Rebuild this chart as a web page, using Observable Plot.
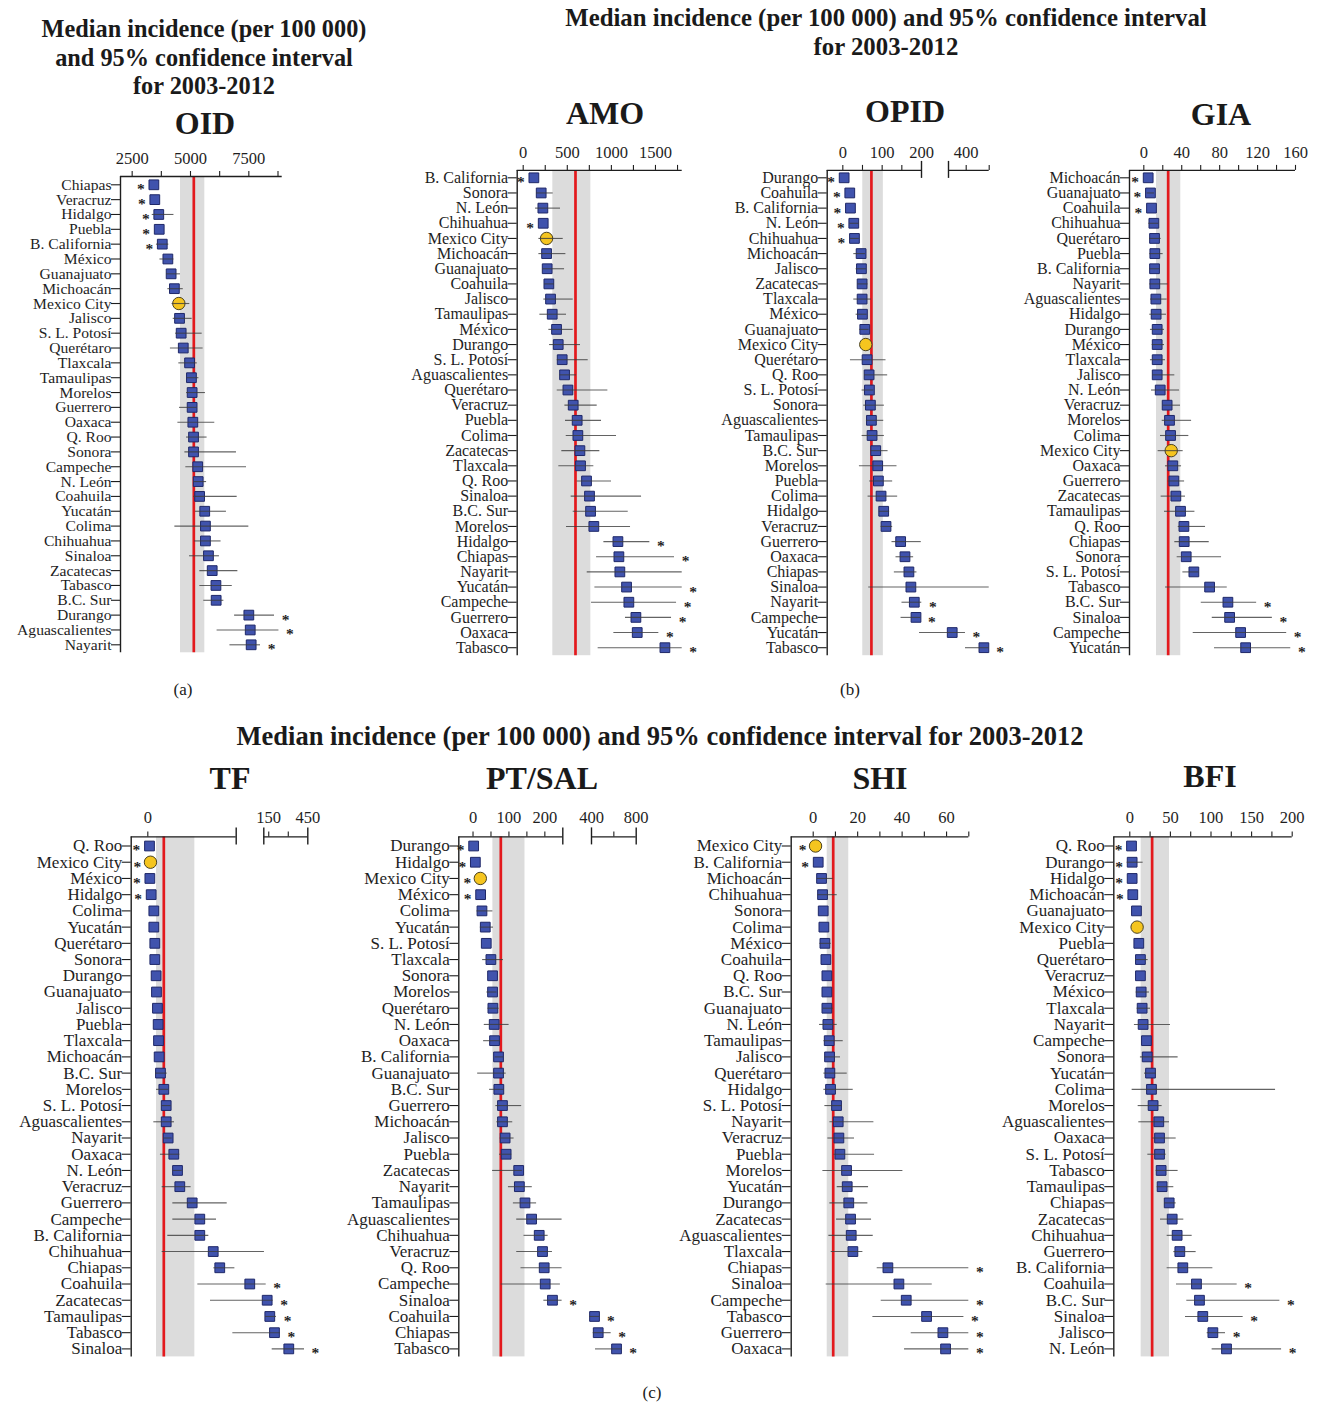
<!DOCTYPE html>
<html><head><meta charset="utf-8">
<script src="https://cdn.jsdelivr.net/npm/d3@7"></script>
<script src="https://cdn.jsdelivr.net/npm/@observablehq/plot@0.6"></script>
<style>
body{margin:0;background:#fff}
#page{position:relative;width:1320px;height:1404px;font-family:"Liberation Serif","Times New Roman",serif;color:#1a1a1a;overflow:hidden;background:#fff}
.t{position:absolute;white-space:nowrap;text-align:center;line-height:1}
.p{position:absolute}
</style></head><body><div id="page"></div>
<script>
// ---------------- DATA ----------------
// OID
const OID_states = ["Chiapas","Veracruz","Hidalgo","Puebla","B. California","México","Guanajuato","Michoacán","Mexico City","Jalisco","S. L. Potosí","Querétaro","Tlaxcala","Tamaulipas","Morelos","Guerrero","Oaxaca","Q. Roo","Sonora","Campeche","N. León","Coahuila","Yucatán","Colima","Chihuahua","Sinaloa","Zacatecas","Tabasco","B.C. Sur","Durango","Aguascalientes","Nayarit"];
const OID_median = [3430,3470,3640,3660,3790,4030,4170,4310,4500,4530,4600,4690,4960,5040,5070,5070,5100,5130,5130,5310,5330,5390,5610,5640,5640,5770,5930,6090,6100,7500,7560,7600];
const OID_low    = [3430,3470,3360,3660,3540,3690,3970,4030,4210,4260,4360,4140,4500,4860,4830,4530,4460,4830,4760,4800,5140,5140,5210,4330,5170,4960,5400,5400,5570,6890,6140,6690];
const OID_high   = [3430,3470,4290,3660,4070,4290,4570,4690,4970,5070,5500,5540,5290,5360,5640,5290,6040,5710,6970,7400,5690,7000,6540,7500,6310,6240,7030,6790,6430,8600,8790,8000];
const OID_stars  = ["L","L","L","L","L","","","","","","","","","","","","","","","","","","","","","","","","","R","R","R"];
const OID_ref = 5142, OID_band = [4571, 5614];
const OID_ticks = [2500,3750,5000,6250,7500,8750], OID_breaks = [], OID_labels = [2500,5000,7500];
const OID_axis = [[2000, 8930]];

// AMO
const AMO_states = ["B. California","Sonora","N. León","Chihuahua","Mexico City","Michoacán","Guanajuato","Coahuila","Jalisco","Tamaulipas","México","Durango","S. L. Potosí","Aguascalientes","Querétaro","Veracruz","Puebla","Colima","Zacatecas","Tlaxcala","Q. Roo","Sinaloa","B.C. Sur","Morelos","Hidalgo","Chiapas","Nayarit","Yucatán","Campeche","Guerrero","Oaxaca","Tabasco"];
const AMO_median = [121,204,223,227,265,265,272,291,310,329,378,397,442,469,507,567,612,620,643,650,718,752,764,801,1074,1085,1096,1172,1198,1278,1293,1607];
const AMO_low    = [121,151,140,227,178,178,223,242,234,189,291,299,386,416,386,473,480,488,438,404,612,544,567,491,915,832,726,813,775,1160,1028,850];
const AMO_high   = [121,340,423,227,454,484,469,355,567,491,567,650,737,605,960,839,888,1058,869,801,1002,1342,1191,1217,1436,1716,1803,1803,1739,1682,1538,1803];
const AMO_stars  = ["L","","","L","","","","","","","","","","","","","","","","","","","","","R","R","","R","R","R","R","R"];
const AMO_ref = 593, AMO_band = [336, 767];
const AMO_ticks = [0,250,500,750,1000,1250,1500,1750], AMO_breaks = [], AMO_labels = [0,500,1000,1500];
const AMO_axis = [[-68, 1803]];

// OPID
const OPID_states = ["Durango","Coahuila","B. California","N. León","Chihuahua","Michoacán","Jalisco","Zacatecas","Tlaxcala","México","Guanajuato","Mexico City","Querétaro","Q. Roo","S. L. Potosí","Sonora","Aguascalientes","Tamaulipas","B.C. Sur","Morelos","Puebla","Colima","Hidalgo","Veracruz","Guerrero","Oaxaca","Chiapas","Sinaloa","Nayarit","Campeche","Yucatán","Tabasco"];
const OPID_median = [3.4,17.7,19.4,27.9,29.6,46.5,47.3,49,49,49.9,55.8,58.3,61.7,66.8,67.6,70.1,72.7,74.4,83.7,88.7,90.4,97.2,103.9,109.8,147,158,168,173,181.7,186,321,500];
const OPID_low    = [3.4,17.7,19.4,17.7,19.4,27.9,33.8,38,27.9,33.8,43,58.3,19.4,55,49,53.2,60,49,71.8,42.2,68.4,64.2,92.9,97.2,125,135.2,131,65.9,150.4,148,195,396];
const OPID_high   = [3.4,17.7,19.4,42,42,57.5,60,64,72.7,61.7,66.8,58.3,109.8,114,78.6,105.6,104,105.6,115,137.7,126.7,139.4,119,126.7,199.4,180,188.4,530,201,198.6,396,530];
const OPID_stars  = ["L","L","L","L","L","","","","","","","","","","","","","","","","","","","","","","","","R","R","R","R"];
const OPID_ref = 72.7, OPID_band = [50.7, 103];
const OPID_ticks = [0,50,100,150,400,530], OPID_breaks = [200,300], OPID_labels = [0,100,200,400];
const OPID_axis = [[-39.7, 200],[300, 530]];

// GIA
const GIA_states = ["Michoacán","Guanajuato","Coahuila","Chihuahua","Querétaro","Puebla","B. California","Nayarit","Aguascalientes","Hidalgo","Durango","México","Tlaxcala","Jalisco","N. León","Veracruz","Morelos","Colima","Mexico City","Oaxaca","Guerrero","Zacatecas","Tamaulipas","Q. Roo","Chiapas","Sonora","S. L. Potosí","Tabasco","B.C. Sur","Sinaloa","Campeche","Yucatán"];
const GIA_median = [4.6,7,8.1,10.6,11.3,11.6,11.3,11.6,12.7,13,14.1,14.1,14.1,14.1,17.3,24.6,27.1,28.2,28.9,30.6,31.7,33.8,38.7,42.3,42.6,44.7,52.8,69.4,88.7,90.5,102.1,107.4];
const GIA_low    = [4.6,3.5,8.1,5.3,6,6.3,6.3,6.3,7,6.3,7,8.8,7,9.5,8.1,20.4,19.4,17.6,15.1,22.9,25.7,18.3,21.8,36.3,32.7,35.2,41.2,22.9,60.6,72.2,52.1,74.6];
const GIA_high   = [4.6,11.3,8.1,15.8,18.3,20.4,16.9,25.7,24.6,23.9,21.8,21.8,22.9,32.7,37.7,38.7,50.4,47.5,41.5,39.8,43,44,53.9,65.1,69,82,58.1,88,119,135.6,150.7,155];
const GIA_stars  = ["L","L","L","","","","","","","","","","","","","","","","","","","","","","","","","","R","R","R","R"];
const GIA_ref = 25.7, GIA_band = [13.4, 39];
const GIA_ticks = [0,20,40,60,80,100,120,140,160], GIA_breaks = [], GIA_labels = [0,40,80,120,160];
const GIA_axis = [[-15.1, 160]];

// TF
const TF_states = ["Q. Roo","Mexico City","México","Hidalgo","Colima","Yucatán","Querétaro","Sonora","Durango","Guanajuato","Jalisco","Puebla","Tlaxcala","Michoacán","B.C. Sur","Morelos","S. L. Potosí","Aguascalientes","Nayarit","Oaxaca","N. León","Veracruz","Guerrero","Campeche","B. California","Chihuahua","Chiapas","Coahuila","Zacatecas","Tamaulipas","Tabasco","Sinaloa"];
const TF_median = [1.9,3.0,2.3,3.8,6.8,6.8,7.9,7.9,9.4,9.8,10.9,11.7,12.1,12.8,14.3,18.1,20.8,20.8,23,29.4,33.6,36.2,50.2,58.8,58.8,74,81.4,105.9,138,158,194,304];
const TF_low    = [1.9,3.0,2.3,3.8,6.8,6.8,7.9,7.9,9.4,9.8,10.9,11.7,12.1,12.8,8.7,9.8,16.2,6.8,18.1,14.3,28.7,16.2,28.3,28.3,22.6,16.2,74.7,56.6,70.9,125,96.2,176.5];
const TF_high   = [1.9,3.0,2.3,3.8,6.8,6.8,7.9,7.9,9.4,9.8,10.9,11.7,12.1,12.8,21.9,23.8,26.4,30.2,27.5,36.2,38.9,49,89.8,77.7,69,117,98.5,130.4,184,209.6,240,424.6];
const TF_stars  = ["L","L","L","L","","","","","","","","","","","","","","","","","","","","","","","","R","R","R","R","R"];
const TF_ref = 18.1, TF_band = [9.8, 53.2];
const TF_ticks = [0,150,300], TF_breaks = [100,112,450], TF_labels = [0,150,450];
const TF_axis = [[-18.8, 100],[112, 450]];

// PT/SAL
const PT_states = ["Durango","Hidalgo","Mexico City","México","Colima","Yucatán","S. L. Potosí","Tlaxcala","Sonora","Morelos","Querétaro","N. León","Oaxaca","B. California","Guanajuato","B.C. Sur","Guerrero","Michoacán","Jalisco","Puebla","Zacatecas","Nayarit","Tamaulipas","Aguascalientes","Chihuahua","Veracruz","Q. Roo","Campeche","Sinaloa","Coahuila","Chiapas","Tabasco"];
const PT_median = [1.8,6.5,20.3,21.2,24.9,34.1,36.9,49.8,54.4,54.4,55.3,59,59.9,71,71,71.9,82,82,89.4,92.2,127.2,129,144.7,163.1,184.3,193.5,198.2,201,221.2,427,460,624];
const PT_low    = [1.8,6.5,20.3,21.2,11,20.3,36.9,26.7,54.4,38.7,41.5,31.3,29.5,61.8,12.9,46.1,63.6,66.4,75.6,73.7,54.4,98.6,112.4,121.7,142,121.7,133.6,78.3,197.2,391,415,436];
const PT_high   = [1.8,6.5,20.3,21.2,55.3,57.1,36.9,84.8,54.4,66.4,72.8,100.5,75.6,84.8,92.2,86.6,135.5,110.6,114.3,107.8,137.3,165,177,248,209.2,221.2,248,243.3,248,475,576,675];
const PT_stars  = ["L","L","L","L","","","","","","","","","","","","","","","","","","","","","","","","","R","R","R","R"];
const PT_ref = 77.4, PT_band = [55.3, 144.7];
const PT_ticks = [0,50,100,150,200,600], PT_breaks = [250,400,800], PT_labels = [0,100,200,400,800];
const PT_axis = [[-39.6, 250],[400, 800]];

// SHI
const SHI_states = ["Mexico City","B. California","Michoacán","Chihuahua","Sonora","Colima","México","Coahuila","Q. Roo","B.C. Sur","Guanajuato","N. León","Tamaulipas","Jalisco","Querétaro","Hidalgo","S. L. Potosí","Nayarit","Veracruz","Puebla","Morelos","Yucatán","Durango","Zacatecas","Aguascalientes","Tlaxcala","Chiapas","Sinaloa","Campeche","Tabasco","Guerrero","Oaxaca"];
const SHI_median = [1.05,2.25,3.75,4.2,4.5,4.8,5.25,5.7,6.15,6.15,6.15,6.6,7.2,7.35,7.5,7.8,10.5,11.25,11.55,12,15,15.3,16,16.8,17.1,17.85,33.6,38.55,41.85,51,58.35,59.55];
const SHI_low    = [1.05,2.25,1.8,2.1,4.5,4.8,3,5.7,6.15,6.15,4.5,2.85,4.8,5.25,4.8,4.8,5.25,7.5,6.6,9.3,4.35,10.8,7.5,10.5,7.05,8.1,28.8,5.85,30.6,26.85,44.1,41.1];
const SHI_high   = [1.05,2.25,9,10.8,4.5,4.8,8.1,5.7,6.15,6.15,9,10.8,13.5,12.3,15.3,18,13,27.3,18.6,27.6,40.35,24.9,24.6,26.25,27,22.35,70,53.55,70,67.8,70,70];
const SHI_stars  = ["L","L","","","","","","","","","","","","","","","","","","","","","","","","","R","","R","R","R","R"];
const SHI_ref = 9.0, SHI_band = [6.3, 16];
const SHI_ticks = [0,10,20,30,40,50,60,70], SHI_breaks = [], SHI_labels = [0,20,40,60];
const SHI_axis = [[-9.9, 70]];

// BFI
const BFI_states = ["Q. Roo","Durango","Hidalgo","Michoacán","Guanajuato","Mexico City","Puebla","Querétaro","Veracruz","México","Tlaxcala","Nayarit","Campeche","Sonora","Yucatán","Colima","Morelos","Aguascalientes","Oaxaca","S. L. Potosí","Tabasco","Tamaulipas","Chiapas","Zacatecas","Chihuahua","Guerrero","B. California","Coahuila","B.C. Sur","Sinaloa","Jalisco","N. León"];
const BFI_median = [2.1,2.9,2.9,3.7,8.2,9,11.1,13.1,13.1,14,15.2,16.4,20.5,21.4,25.5,26.7,28.7,35.7,36.6,36.6,38.6,39.8,48.5,52.2,58.3,61.6,65.3,82.1,85.8,89.9,102.3,119.1];
const BFI_low    = [2.1,-3.3,2.9,3.7,8.2,9,11.1,7,13.1,7.8,9,5.7,20.5,13.1,18.1,2.9,10.3,11.1,28.3,22.2,32.4,33.7,42.7,37.8,46,54.2,46,57.5,70.2,68.6,95.3,101.4];
const BFI_high   = [2.1,16.4,2.9,3.7,8.2,9,11.1,22.6,13.1,24.2,25.5,50.1,20.5,59.5,32.9,179.5,39.8,48.9,57.1,44.8,59.5,54.2,57.1,66.5,76.8,81.7,102.3,132.2,184.8,139.6,117.9,186.9];
const BFI_stars  = ["L","L","L","L","","","","","","","","","","","","","","","","","","","","","","","","R","R","R","R","R"];
const BFI_ref = 27.5, BFI_band = [14, 48.9];
const BFI_ticks = [0,25,50,75,100,125,150,175,200], BFI_breaks = [], BFI_labels = [0,50,100,150,200];
const BFI_axis = [[-19.7, 200]];

// ---------------- LAYOUT ----------------
const FONT = '"Liberation Serif","Times New Roman",serif';
const page = document.getElementById("page");

function label(text, cx, base, size, bold) {
  const el = document.createElement("div");
  el.className = "t";
  el.textContent = text;
  el.style.cssText = `left:${cx - 500}px;width:1000px;top:${base - 0.8375 * size}px;font-size:${size}px;font-weight:${bold ? 700 : 400}`;
  page.append(el);
}

function panel(cfg, d) {
  const n = d.states.length;
  const rows = d.states.map((s, i) => ({state: s, i, v: d.median[i], lo: d.low[i], hi: d.high[i], star: d.stars[i]}));
  const sp = (cfg.rowN - cfg.row0) / (n - 1);
  const yTop = (cfg.axisY - cfg.row0) / sp;
  const yBot = (n - 1) + 8 / sp;
  const x0 = d.axis[0][0];
  const ink = "#1e1e1e";
  const svg = Plot.plot({
    width: cfg.width, height: cfg.height,
    marginTop: 0, marginRight: 0, marginBottom: 0, marginLeft: 0,
    style: {fontFamily: FONT, fontSize: "16px", color: ink, background: "transparent", overflow: "visible"},
    x: {type: "linear", domain: cfg.domain, range: cfg.range, axis: null},
    y: {type: "linear", domain: [0, n - 1], range: [cfg.row0, cfg.rowN], axis: null},
    marks: [
      Plot.rect([d.band], {x1: b => b[0], x2: b => b[1], y1: yTop, y2: yBot, fill: "#dcdcdc"}),
      Plot.ruleX([d.ref], {x: v => v, y1: yTop, y2: yBot, stroke: "#e3191d", strokeWidth: 2.7}),
      Plot.ruleX([x0], {x: v => v, y1: yTop, y2: yBot, stroke: ink, strokeWidth: 1.4}),
      Plot.ruleY(d.axis, {y: yTop, x1: s => s[0], x2: s => s[1], stroke: ink, strokeWidth: 1.4}),
      Plot.ruleX(d.ticks, {x: v => v, y1: yTop - 5 / sp, y2: yTop, stroke: ink, strokeWidth: 1.1}),
      Plot.ruleX(d.breaks, {x: v => v, y1: yTop - 9 / sp, y2: yTop + 8 / sp, stroke: ink, strokeWidth: 1.4}),
      Plot.text(d.labels, {x: v => v, y: yTop, dy: cfg.labelDy, text: v => String(v), fontSize: 16.5, fill: ink}),
      Plot.ruleY(rows, {y: "i", x1: x0, x2: x0, insetLeft: -9, stroke: ink, strokeWidth: 1.1}),
      Plot.text(rows, {x: x0, y: "i", text: "state", textAnchor: "end", dx: -9, fontSize: cfg.fs, fill: ink}),
      Plot.dot(rows.filter(r => r.state !== "Mexico City"), {x: "v", y: "i", symbol: "square", r: 5.5, fill: "#4053ad", stroke: "#1f2868", strokeWidth: 1}),
      Plot.dot(rows.filter(r => r.state === "Mexico City"), {x: "v", y: "i", r: 6.2, fill: "#f5c51f", stroke: "#4a4220", strokeWidth: 1}),
      Plot.ruleY(rows.filter(r => r.hi > r.lo), {y: "i", x1: "lo", x2: "hi", stroke: "#3c3c3c", strokeOpacity: 0.8, strokeWidth: 1.1}),
      Plot.text(rows.filter(r => r.star === "L"), {x: "v", y: "i", text: () => "*", dx: -13, dy: 4.5, fontSize: 15.5, fontWeight: "bold", fill: ink}),
      Plot.text(rows.filter(r => r.star === "R"), {x: "hi", y: "i", text: () => "*", dx: 11, dy: 4.5, fontSize: 15.5, fontWeight: "bold", fill: ink})
    ]
  });
  const wrap = document.createElement("div");
  wrap.className = "p";
  wrap.style.cssText = `left:${cfg.left}px;top:${cfg.top}px;width:${cfg.width}px;height:${cfg.height}px`;
  wrap.append(svg);
  page.append(wrap);
}

const AB = {row0: 47.3, rowN: 517.2, axisY: 39.9, labelDy: -18, fs: 16};
const C = {row0: 45.5, rowN: 548.4, axisY: 36.4, labelDy: -19, fs: 17};

panel({left: 0, top: 140, width: 310, height: 525, row0: 44.3, rowN: 504.3, axisY: 36, labelDy: -18, fs: 15.6,
       domain: [2000, 8930], range: [120, 281.7]},
      {states: OID_states, median: OID_median, low: OID_low, high: OID_high, stars: OID_stars, ref: OID_ref, band: OID_band, ticks: OID_ticks, breaks: OID_breaks, labels: OID_labels, axis: OID_axis});
panel({...AB, left: 400, top: 130, width: 310, height: 535, domain: [-68, 1803], range: [116.7, 281.7]},
      {states: AMO_states, median: AMO_median, low: AMO_low, high: AMO_high, stars: AMO_stars, ref: AMO_ref, band: AMO_band, ticks: AMO_ticks, breaks: AMO_breaks, labels: AMO_labels, axis: AMO_axis});
panel({...AB, left: 710, top: 130, width: 300, height: 535, domain: [-39.7, 200, 300, 530], range: [116.7, 211, 238, 278.7]},
      {states: OPID_states, median: OPID_median, low: OPID_low, high: OPID_high, stars: OPID_stars, ref: OPID_ref, band: OPID_band, ticks: OPID_ticks, breaks: OPID_breaks, labels: OPID_labels, axis: OPID_axis});
panel({...AB, left: 1010, top: 130, width: 310, height: 535, domain: [-15.1, 160], range: [119, 285]},
      {states: GIA_states, median: GIA_median, low: GIA_low, high: GIA_high, stars: GIA_stars, ref: GIA_ref, band: GIA_band, ticks: GIA_ticks, breaks: GIA_breaks, labels: GIA_labels, axis: GIA_axis});
panel({...C, left: 0, top: 800, width: 330, height: 565, domain: [-18.8, 100, 112, 450], range: [130.7, 235.7, 263.3, 307.3]},
      {states: TF_states, median: TF_median, low: TF_low, high: TF_high, stars: TF_stars, ref: TF_ref, band: TF_band, ticks: TF_ticks, breaks: TF_breaks, labels: TF_labels, axis: TF_axis});
panel({...C, left: 330, top: 800, width: 330, height: 565, domain: [-39.6, 250, 400, 800], range: [128.3, 232.3, 261, 305.7]},
      {states: PT_states, median: PT_median, low: PT_low, high: PT_high, stars: PT_stars, ref: PT_ref, band: PT_band, ticks: PT_ticks, breaks: PT_breaks, labels: PT_labels, axis: PT_axis});
panel({...C, left: 660, top: 800, width: 330, height: 565, domain: [-9.9, 70], range: [130.7, 308.3]},
      {states: SHI_states, median: SHI_median, low: SHI_low, high: SHI_high, stars: SHI_stars, ref: SHI_ref, band: SHI_band, ticks: SHI_ticks, breaks: SHI_breaks, labels: SHI_labels, axis: SHI_axis});
panel({...C, left: 990, top: 800, width: 330, height: 565, domain: [-19.7, 200], range: [123.3, 301.7]},
      {states: BFI_states, median: BFI_median, low: BFI_low, high: BFI_high, stars: BFI_stars, ref: BFI_ref, band: BFI_band, ticks: BFI_ticks, breaks: BFI_breaks, labels: BFI_labels, axis: BFI_axis});

// Titles
label("Median incidence (per 100 000)", 204, 37.5, 24.3, true);
label("and 95% confidence interval", 204, 66, 24.3, true);
label("for 2003-2012", 204, 94.5, 24.3, true);
label("OID", 205, 134, 32, true);
label("Median incidence (per 100 000) and 95% confidence interval", 886, 26.5, 24.8, true);
label("for 2003-2012", 886, 55.5, 24.8, true);
label("AMO", 605, 124, 32, true);
label("OPID", 905, 122, 32, true);
label("GIA", 1221, 125, 32, true);
label("Median incidence (per 100 000) and 95% confidence interval for 2003-2012", 660, 745, 26.5, true);
label("TF", 230, 789, 32, true);
label("PT/SAL", 542, 789, 32, true);
label("SHI", 880, 789, 32, true);
label("BFI", 1210, 787, 32, true);
label("(a)", 183, 695, 17, false);
label("(b)", 850, 695, 17, false);
label("(c)", 652, 1398, 17, false);
</script></body></html>
